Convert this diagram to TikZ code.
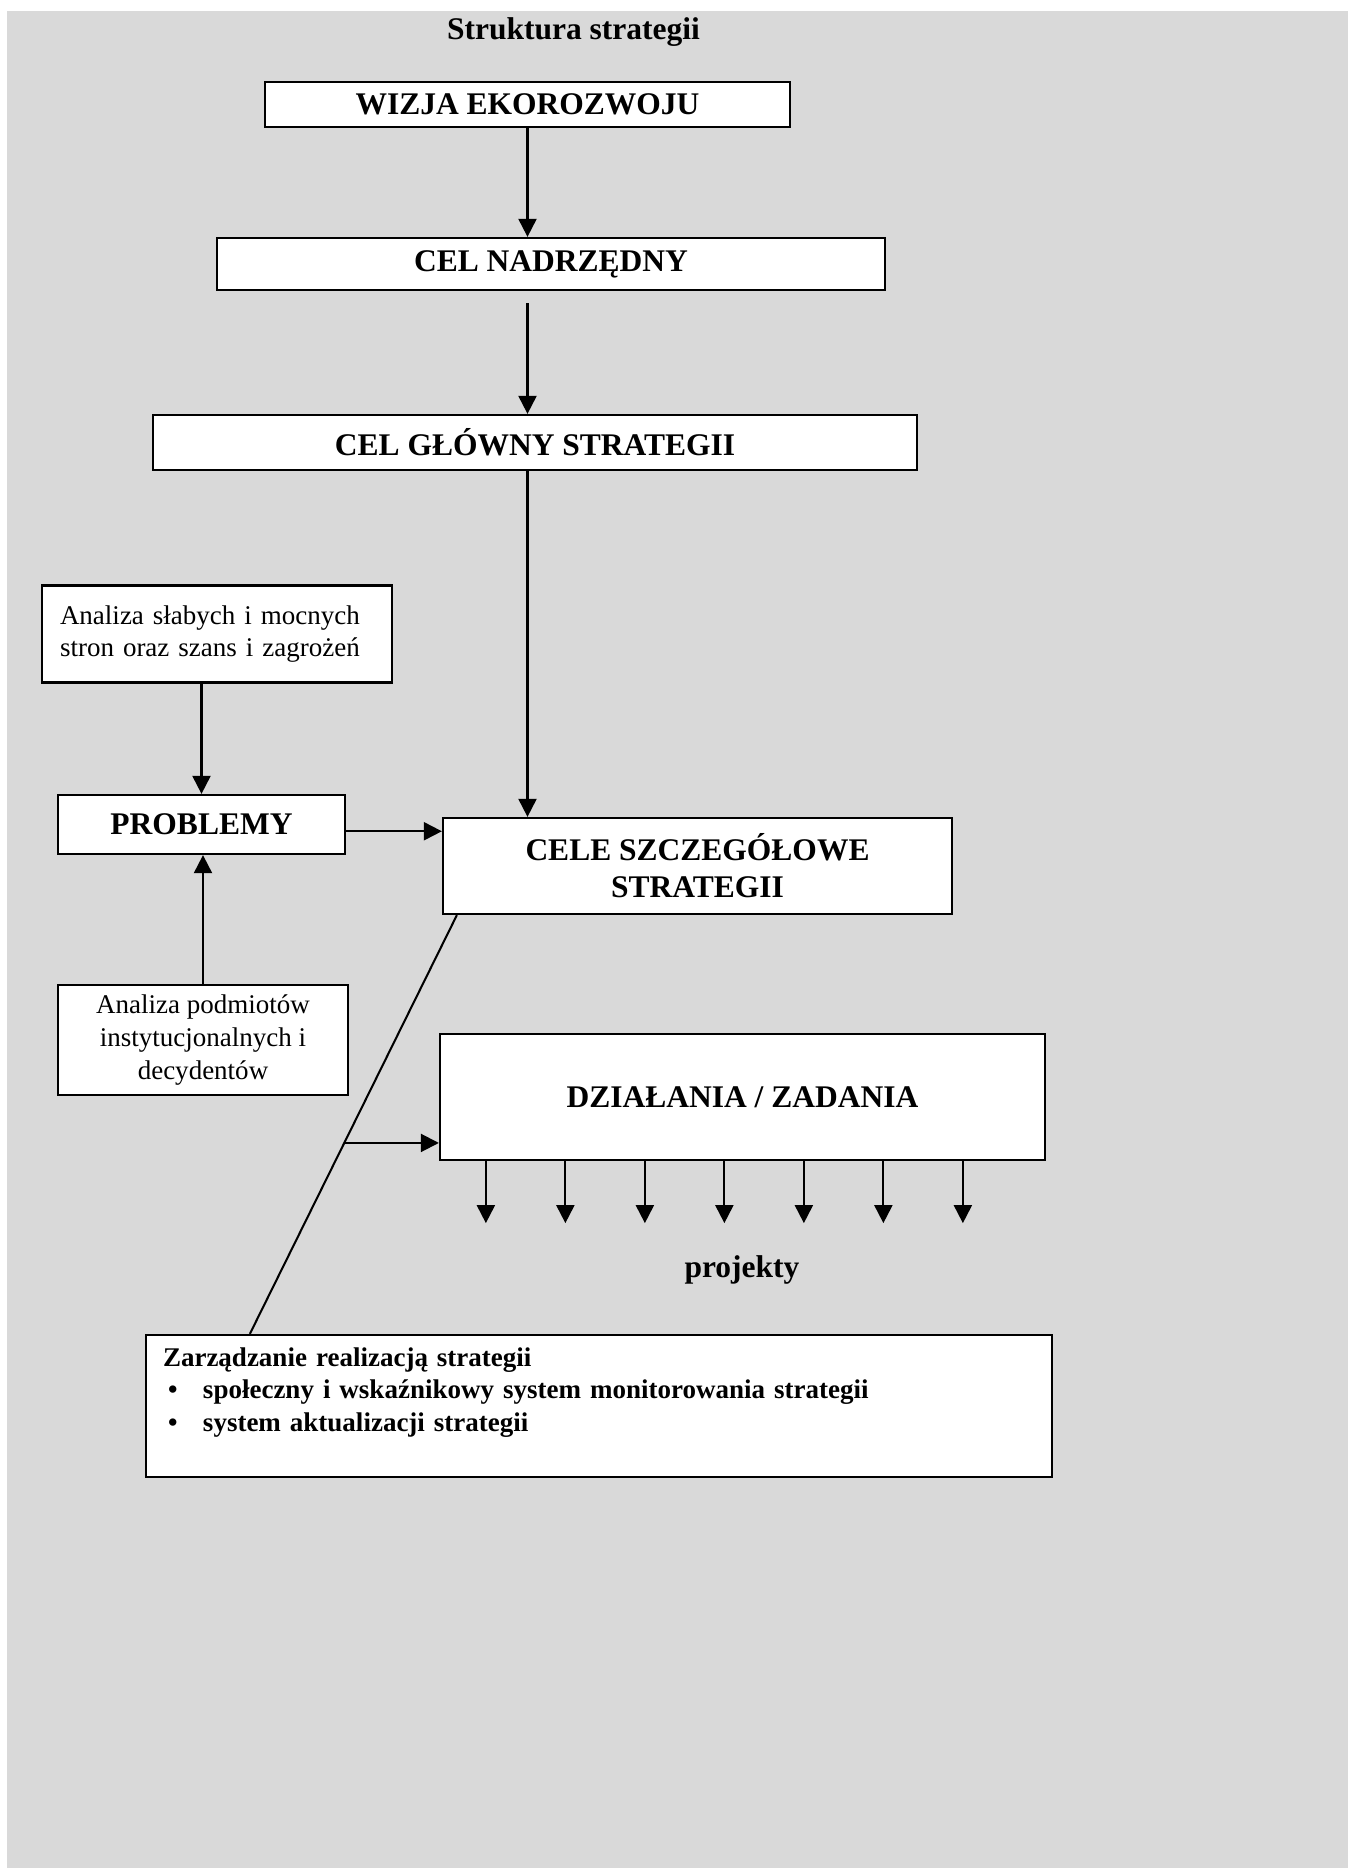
\documentclass[tikz,border=0pt]{standalone}
\usepackage{fontspec}
\setmainfont{Liberation Serif}
\usetikzlibrary{arrows.meta,calc,positioning}
\definecolor{tlo}{RGB}{217,217,217}
\newdimen\px \px=0.4444pt
\tikzset{
	box/.style={draw,fill=white,line width=1pt,inner sep=0pt,align=center},
	boxsize/.style 2 args={minimum width=#1*\px,minimum height=#2*\px},
	head/.style={font=\fontsize{14}{16.4}\selectfont\bfseries},
	body/.style={font=\fontsize{12}{14.6}\selectfont},
	bodybf/.style={font=\fontsize{12}{14.6}\selectfont\bfseries},
	arr/.style={-{Triangle[length=8pt,width=8pt]},line width=0.9pt},
	link/.style={line width=0.9pt},
}
\begin{document}
\begin{tikzpicture}[x=\px,y=-\px]
	%background
	\useasboundingbox (0,0) rectangle (1348,1868);
	\fill[tlo] (7,11) rectangle (1348,1868);

	%main column
	\node[head] (tytul) at (573.5,32) {Struktura strategii};
	\node[box,head,boxsize={525}{45}] (wizja) at (527.5,104.5) {WIZJA EKOROZWOJU};
	\node[box,head,boxsize={668}{52}] (nadrz) at (551,264) {CEL NADRZĘDNY};
	\node[box,head,boxsize={764}{55}] (glowny) at (535,442.5) {CEL GŁÓWNY STRATEGII};
	\node[box,head,boxsize={509}{96}] (cele) at (697.5,866) {CELE SZCZEGÓŁOWE\\STRATEGII};

	%left column
	\node[box,body,align=left,text width=314*\px,inner xsep=18*\px,minimum height=97*\px] (swot) at (217,634) {Analiza słabych i mocnych\\stron oraz szans i zagrożeń};
	\node[box,head,boxsize={287}{59}] (problemy) at (201.5,824.5) {PROBLEMY};
	\node[box,body,boxsize={290}{110}] (podm) at (203,1040) {Analiza podmiotów\\instytucjonalnych i\\decydentów};

	%actions
	\node[box,head,boxsize={605}{126}] (dzial) at (742.5,1097) {DZIAŁANIA / ZADANIA};
	\node[head] (proj) at (742,1270) {projekty};
	\node[box,bodybf,align=left,text width=872*\px,inner xsep=17*\px,minimum height=142*\px] (zarz) at (599,1406) {Zarządzanie realizacją strategii\\
		\makebox[40\px][l]{\hspace{5\px}\textbullet}społeczny i wskaźnikowy system monitorowania strategii\\
		\makebox[40\px][l]{\hspace{5\px}\textbullet}system aktualizacji strategii\\ \mbox{}};

	%arrows
	\draw[arr] (wizja.south) -- (nadrz.north -| wizja.south);
	\draw[arr,shorten <=12*\px] (nadrz.south -| wizja.south) -- (glowny.north -| wizja.south);
	\draw[arr] (glowny.south -| wizja.south) -- (cele.north -| wizja.south);
	\draw[arr] (swot.south -| problemy.north) -- (problemy.north);
	\draw[arr] (podm.north) -- (problemy.south -| podm.north);
	\draw[arr] ([yshift=-3pt]problemy.east) -- ([yshift=-3pt]problemy.east -| cele.west);

	%diagonal line to management
	\coordinate (d1) at ([xshift=15*\px]cele.south west);
	\coordinate (d2) at ([xshift=105*\px]zarz.north west);
	\draw[link] (d1) -- (d2);
	\coordinate (tap) at ($(d1)!0.544!(d2)$);
	\draw[arr] (tap) -- (tap -| dzial.west);

	%projects
	\foreach \i in {0,...,6}
		\draw[arr] ([xshift={(47+\i*79.5)*\px}]dzial.south west) -- ++(0,62);
\end{tikzpicture}
\end{document}
